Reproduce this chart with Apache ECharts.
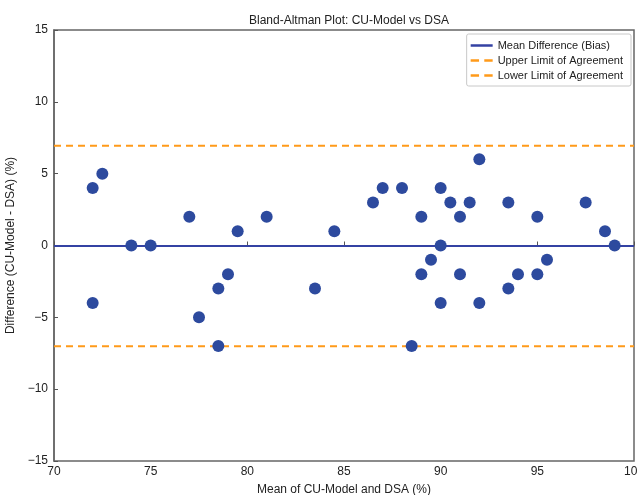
<!DOCTYPE html>
<html>
<head>
	<meta charset="utf-8">
	<title>Bland-Altman Plot</title>
	<style>
		html, body { margin: 0; padding: 0; background: #fff; }
		#chart { width: 637px; height: 495px; }
	</style>
</head>
<body>
	<div id="chart"></div>
	<script src="https://cdn.jsdelivr.net/npm/echarts@6/dist/echarts.min.js"></script>
	<script>
	// mean of the two methods (%)
	var meanValues = [72, 72.5, 72, 74, 75, 77, 77.5, 78.5, 78.5, 79, 79.5, 81,
		83.5, 84.5, 86.5, 87, 88, 88.5, 89, 89, 89.5, 90, 90, 90, 90.5, 91, 91,
		91.5, 92, 92, 93.5, 93.5, 94, 95, 95, 95.5, 97.5, 98.5, 99];
	// difference CU-Model - DSA (%)
	var diffValues = [4, 5, -4, 0, 0, 2, -5, -3, -7, -2, 1, 2,
		-3, 1, 3, 4, 4, -7, 2, -2, -1, 4, 0, -4, 3, 2, -2,
		3, 6, -4, 3, -3, -2, 2, -2, -1, 3, 1, 0];
	var bias = -0.03;
	var upperLimit = 6.95;
	var lowerLimit = -7.01;
	var xRange = [70, 100];

	var myChart = echarts.init(document.getElementById('chart'));
	var font = 'Liberation Sans, Arial, sans-serif';
	var blue = '#2d4a9e';
	var orange = '#ff9a1a';

	var points = [];
	for (var i = 0; i < meanValues.length; i++) {
		points.push([meanValues[i], diffValues[i]]);
	}
	function hline(v) {
		return [[xRange[0], v], [xRange[1], v]];
	}
	function minusSign(v) {
		return String(v).replace('-', '\u2212');
	}

	var solidIcon = 'path://M0,0h22v2.5h-22z';
	var dashIcon = 'path://M0,0h8v2.5h-8z M13,0h8v2.5h-8z';

	var option = {
		animation: false,
		title: {
			text: 'Bland-Altman Plot: CU-Model vs DSA',
			left: 344,
			textAlign: 'center',
			top: 10,
			textStyle: { fontFamily: font, fontSize: 12, fontWeight: 'normal', color: '#222' }
		},
		legend: {
			right: 6,
			top: 34,
			orient: 'vertical',
			itemWidth: 22,
			itemHeight: 3,
			itemGap: 4,
			padding: [6, 8, 5, 4],
			backgroundColor: '#fff',
			borderColor: '#c8c8c8',
			borderWidth: 1,
			borderRadius: 2,
			textStyle: { fontFamily: font, fontSize: 11, color: '#222' },
			data: [
				{ name: 'Mean Difference (Bias)', icon: solidIcon },
				{ name: 'Upper Limit of Agreement', icon: dashIcon },
				{ name: 'Lower Limit of Agreement', icon: dashIcon }
			]
		},
		grid: {
			left: 54,
			right: 3,
			top: 30,
			bottom: 34,
			outerBoundsMode: 'none',
			containLabel: false,
			show: true,
			borderColor: '#666',
			borderWidth: 1.5
		},
		xAxis: {
			type: 'value',
			min: 70,
			max: 100,
			interval: 5,
			name: 'Mean of CU-Model and DSA (%)',
			nameLocation: 'middle',
			nameGap: 23,
			nameTextStyle: { fontFamily: font, fontSize: 12, color: '#222' },
			axisLine: { lineStyle: { color: '#666', width: 1.5 } },
			axisTick: { inside: true, length: 4, lineStyle: { color: '#555' } },
			axisLabel: { fontFamily: font, fontSize: 12, color: '#222', margin: 5, hideOverlap: false },
			splitLine: { show: false }
		},
		yAxis: {
			type: 'value',
			min: -15,
			max: 15,
			interval: 5,
			name: 'Difference (CU-Model - DSA) (%)',
			nameLocation: 'middle',
			nameGap: 31,
			nameTextStyle: { fontFamily: font, fontSize: 12, color: '#222' },
			axisLine: { lineStyle: { color: '#666', width: 1.5 } },
			axisTick: { inside: true, length: 4, lineStyle: { color: '#555' } },
			axisLabel: { fontFamily: font, fontSize: 12, color: '#222', margin: 6, formatter: minusSign },
			splitLine: { show: false }
		},
		series: [{
			name: 'Mean Difference (Bias)',
			type: 'line',
			symbol: 'none',
			lineStyle: { color: '#3442a3', width: 2 },
			itemStyle: { color: '#3442a3' },
			data: hline(bias),
			z: 2
		}, {
			name: 'Upper Limit of Agreement',
			type: 'line',
			symbol: 'none',
			lineStyle: { color: orange, width: 2, type: [7, 5] },
			itemStyle: { color: orange },
			data: hline(upperLimit),
			z: 2
		}, {
			name: 'Lower Limit of Agreement',
			type: 'line',
			symbol: 'none',
			lineStyle: { color: orange, width: 2, type: [7, 5] },
			itemStyle: { color: orange },
			data: hline(lowerLimit),
			z: 2
		}, {
			name: 'Data',
			type: 'scatter',
			symbolSize: 12,
			itemStyle: { color: blue, opacity: 1 },
			data: points,
			z: 3
		}]
	};
	myChart.setOption(option);
	</script>
</body>
</html>
